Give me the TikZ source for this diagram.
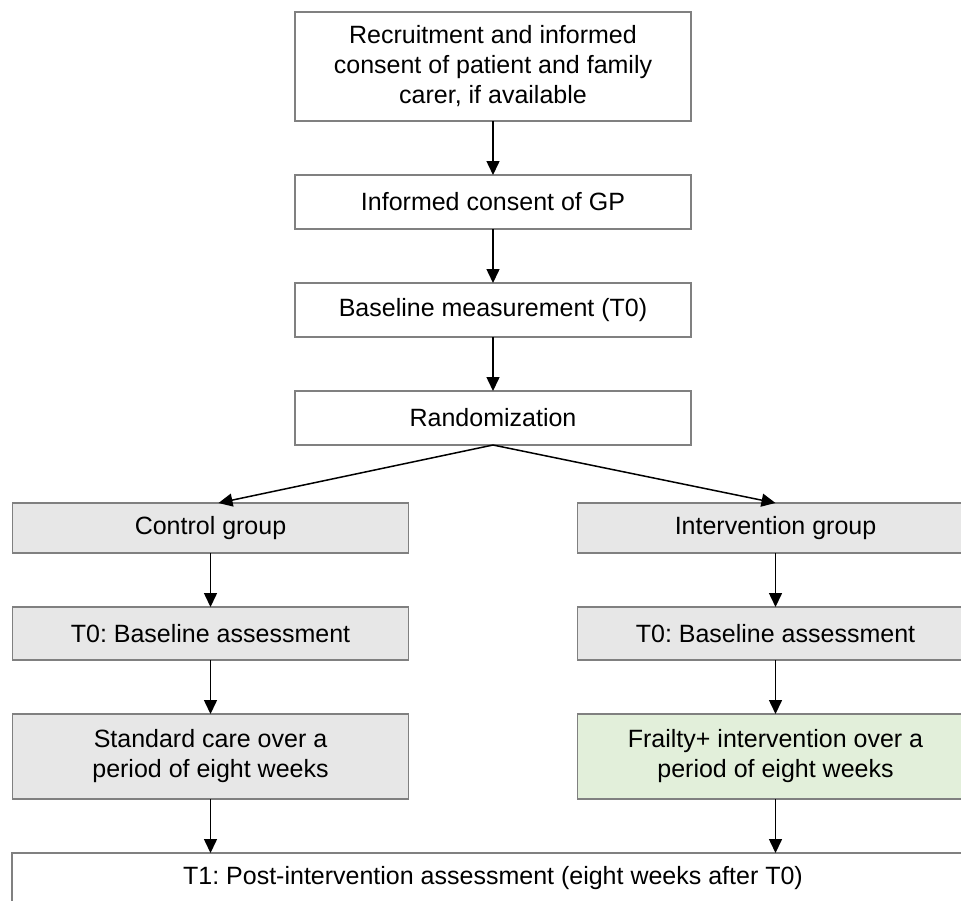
\documentclass[tikz,border=0pt]{standalone}
\usepackage{fontspec}
\setmainfont{Liberation Sans}
\usetikzlibrary{positioning,arrows.meta}
\usepackage{xcolor}
\definecolor{BoxLine}{RGB}{128,128,128}
\definecolor{BoxGrey}{RGB}{231,231,231}
\definecolor{BoxGreen}{RGB}{226,239,218}
\frenchspacing

\begin{document}
\begin{tikzpicture}[
node distance=27pt,
box/.style={rectangle,draw=BoxLine,line width=0.8pt,fill=white,outer sep=0pt,
minimum width=198pt,minimum height=27pt,align=center,inner sep=0pt,
font=\fontsize{12.5}{15}\selectfont},
greybox/.style={box,fill=BoxGrey},
arrow/.style={-{Triangle[length=7pt,width=6.5pt]},line width=0.75pt,draw=black}
]
\useasboundingbox (0,0) rectangle (480.5pt,-450pt);
\node[box,minimum height=54.5pt] (a) at (246.5pt,-33.25pt) {Recruitment and informed\\consent of patient and family\\carer, if available};
\node[box,below=of a] (b) {Informed consent of GP};
\node[box,below=of b] (c) {Baseline measurement (T0)};
\node[box,below=of c] (d) {Randomization};
\node[greybox,minimum height=25pt,below=29pt of d,xshift=-141.25pt] (e) {Control group};
\node[greybox,minimum height=25pt,below=29pt of d,xshift=141.25pt] (f) {Intervention group};
\node[greybox,minimum height=26.5pt,below=of e] (g) {T0: Baseline assessment};
\node[greybox,minimum height=26.5pt,below=of f] (h) {T0: Baseline assessment};
\node[greybox,minimum height=42.5pt,below=of g] (i) {Standard care over a\\period of eight weeks};
\node[box,fill=BoxGreen,minimum height=42.5pt,below=of h] (j) {Frailty+ intervention over a\\period of eight weeks};
\coordinate (k) at (d |- i.south);
\node[box,minimum width=481pt,minimum height=25pt,below=of k] (l) {T1: Post-intervention assessment (eight weeks after T0)};
\draw[arrow] (a)--(b); \draw[arrow] (b)--(c); \draw[arrow] (c)--(d);
\draw[arrow] (d.south)--([xshift=4pt]e.north); \draw[arrow] (d.south)--(f.north);
\draw[arrow] (e)--(g); \draw[arrow] (f)--(h); \draw[arrow] (g)--(i); \draw[arrow] (h)--(j);
\draw[arrow] (i)--(i |- l.north); \draw[arrow] (j)--(j |- l.north);
\end{tikzpicture}
\end{document}
